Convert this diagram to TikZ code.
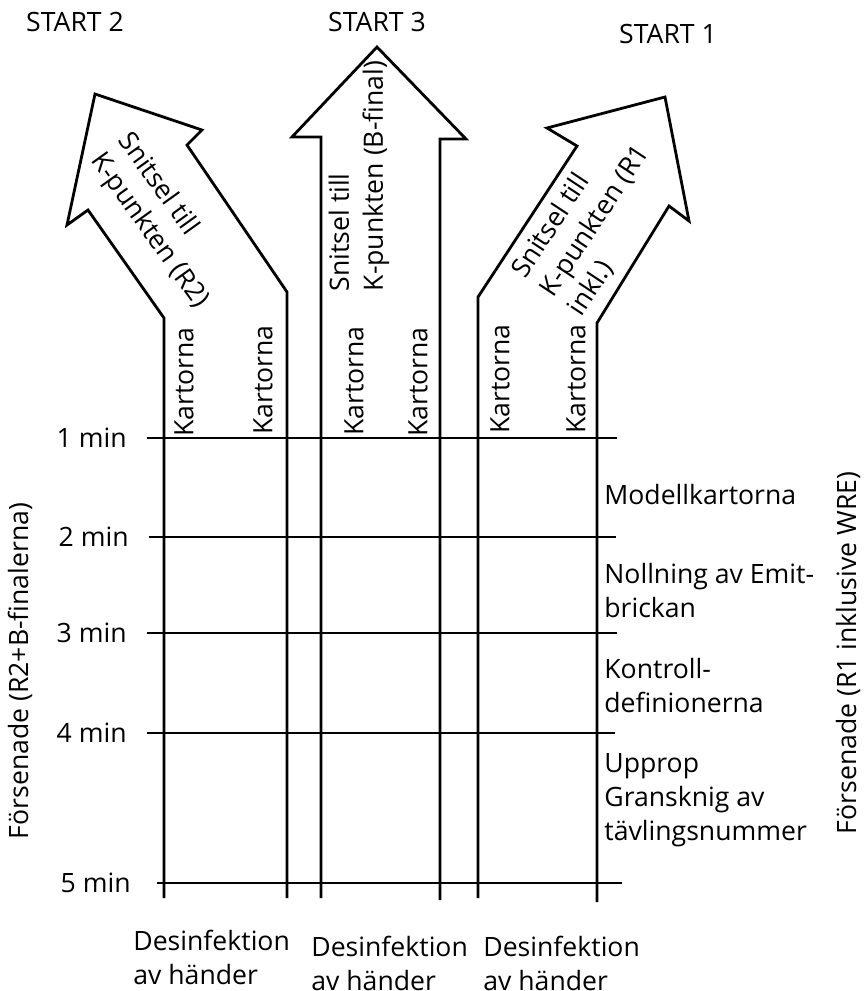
\documentclass[tikz,border=0pt]{standalone}
\usepackage{fontspec}
\setmainfont{Open Sans}
\usepackage{tikz}
\usetikzlibrary{
    positioning
}
\tikzset{
  basic/.style = {
      font=\fontsize{13.3}{17}\selectfont,
      inner sep=0pt,
      align=left
  },
  upright/.style = {
      basic,
      rotate=90
  },
  outline/.style = {
      draw,
      line width=1.4pt,
      line join=miter
  },
  tline/.style = {
      draw,
      line width=1.4pt
  }
}

\begin{document}
\begin{tikzpicture}[x=0.5pt, y=-0.5pt]
    \useasboundingbox (0,0) rectangle (865,991);
    % Arrows
    \path[outline] (164,898) -- (164,318) -- (88,210) -- (67,225) -- (95,94)
        -- (202,130) -- (187,145) -- (287,292) -- (287,898);
    \path[outline] (321,898) -- (321,137) -- (292,137) -- (377,47)
        -- (466,139) -- (440,139) -- (440,900);
    \path[outline] (478,898) -- (478,297) -- (577,146) -- (547,128) -- (665,97)
        -- (689,221) -- (669,206) -- (597,323) -- (597,902);
    % Time lines
    \coordinate (m1) at (147,438);
    \coordinate (e1) at (617,438);
    \coordinate (m2) at (149,537);
    \coordinate (e2) at (616,537);
    \coordinate (m3) at (147,633);
    \coordinate (e3) at (617,633);
    \coordinate (m4) at (147,733);
    \coordinate (e4) at (615,733);
    \coordinate (m5) at (157,883);
    \coordinate (e5) at (622,883);
    \path[tline]
    (m1) -- (e1)
    (m2) -- (e2)
    (m3) -- (e3)
    (m4) -- (e4)
    (m5) -- (e5);
    % Nodes
    \node[basic] (start2) at (75,22) {START 2};
    \node[basic] (start3) at (377,22) {START 3};
    \node[basic] (start1) at (668,34) {START 1};
    \node[basic, rotate=-54.3] (snitsel2) at (163,221) {Snitsel till\\K-punkten (R2)};
    \node[upright] (snitsel3) at (359,176) {Snitsel till\\K-punkten (B-final)};
    \node[basic, rotate=56.5] (snitsel1) at (595,221) {Snitsel till\\K-punkten (R1\\inkl.)};
    \node[upright] (kart1) at (184,382) {Kartorna};
    \node[upright] (kart2) at (263,380) {Kartorna};
    \node[upright] (kart3) at (354,381) {Kartorna};
    \node[upright] (kart4) at (418,382) {Kartorna};
    \node[upright] (kart5) at (500,379) {Kartorna};
    \node[upright] (kart6) at (576,379) {Kartorna};
    \node[basic, left=10pt of m1] (min1) {1 min};
    \node[basic, left=10pt of m2] (min2) {2 min};
    \node[basic, left=10pt of m3] (min3) {3 min};
    \node[basic, left=10pt of m4] (min4) {4 min};
    \node[basic, left=13pt of m5] (min5) {5 min};
    \node[upright] (late2) at (20,671) {Försenade (R2+B-finalerna)};
    \node[upright] (late1) at (848,653) {Försenade (R1 inklusive WRE)};
    \node[basic, anchor=west] (modell) at (604,495) {Modellkartorna};
    \node[basic, anchor=west] (noll) at (604,591) {Nollning av Emit-\\brickan};
    \node[basic, anchor=west] (kontroll) at (604,686) {Kontroll-\\definionerna};
    \node[basic, anchor=west] (upprop) at (604,800) {Upprop\\Gransknig av\\tävlingsnummer};
    \node[basic, anchor=west] (des2) at (133,957) {Desinfektion\\av händer};
    \node[basic, anchor=west] (des3) at (311,963) {Desinfektion\\av händer};
    \node[basic, anchor=west] (des1) at (483,963) {Desinfektion\\av händer};
\end{tikzpicture}
\end{document}
